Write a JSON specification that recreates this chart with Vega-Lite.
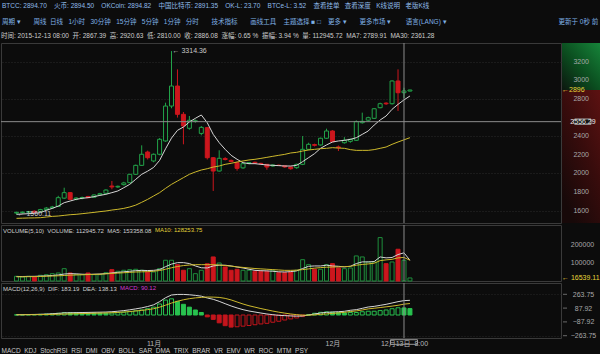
{
  "$schema": "https://vega.github.io/schema/vega-lite/v6.json",
  "background": "#0c0c0c",
  "padding": {"top": 2, "left": 0, "right": 0, "bottom": 0},
  "spacing": 0,
  "config": {
    "font": "Liberation Sans, Noto Sans CJK SC",
    "view": {"stroke": "#3a3a3a"},
    "concat": {"spacing": 0},
    "axis": {"labelFont": "Liberation Sans", "labelFontSize": 7, "labelColor": "#a0a0a0", "domain": false, "ticks": false, "grid": false, "title": null, "labelOverlap": false},
    "text": {"font": "Liberation Sans", "fontSize": 7}
  },
  "title": {
    "text": "BTCC: 2894.70\u00a0\u00a0\u00a0\u00a0火币: 2894.50\u00a0\u00a0\u00a0\u00a0OKCoin: 2894.82\u00a0\u00a0\u00a0\u00a0中国比特币: 2891.35\u00a0\u00a0\u00a0\u00a0OK-L: 23.70\u00a0\u00a0\u00a0\u00a0BTCe-L: 3.52\u00a0\u00a0\u00a0\u00a0查看挂单\u00a0\u00a0\u00a0查看深度\u00a0\u00a0\u00a0K线说明\u00a0\u00a0\u00a0老版K线",
    "subtitle": "\u00a0周期 ▾\u00a0\u00a0\u00a0\u00a0\u00a0\u00a0\u00a0周线\u00a0\u00a0日线\u00a0\u00a0\u00a01小时\u00a0\u00a0\u00a030分钟\u00a0\u00a0\u00a015分钟\u00a0\u00a0\u00a05分钟\u00a0\u00a0\u00a01分钟\u00a0\u00a0\u00a0分时\u00a0\u00a0\u00a0\u00a0\u00a0\u00a0\u00a0技术指标\u00a0\u00a0\u00a0\u00a0\u00a0\u00a0\u00a0画线工具\u00a0\u00a0\u00a0\u00a0主题选择 ■ □\u00a0\u00a0\u00a0\u00a0更多 ▾\u00a0\u00a0\u00a0\u00a0\u00a0\u00a0\u00a0更多市场 ▾\u00a0\u00a0\u00a0\u00a0\u00a0\u00a0\u00a0\u00a0语言(LANG) ▾\u00a0\u00a0\u00a0\u00a0\u00a0\u00a0\u00a0\u00a0\u00a0\u00a0\u00a0\u00a0\u00a0\u00a0\u00a0\u00a0\u00a0\u00a0\u00a0\u00a0\u00a0\u00a0\u00a0\u00a0\u00a0\u00a0\u00a0\u00a0\u00a0\u00a0\u00a0\u00a0\u00a0\u00a0\u00a0\u00a0\u00a0\u00a0\u00a0\u00a0\u00a0\u00a0\u00a0\u00a0\u00a0\u00a0\u00a0\u00a0\u00a0\u00a0\u00a0\u00a0\u00a0\u00a0\u00a0\u00a0\u00a0\u00a0\u00a0\u00a0\u00a0\u00a0更新于 0秒 前",
    "anchor": "start",
    "frame": "bounds",
    "font": "Liberation Sans, Noto Sans CJK SC",
    "fontSize": 6.5,
    "fontWeight": "normal",
    "color": "#8fbbe8",
    "subtitleFont": "Liberation Sans, Noto Sans CJK SC",
    "subtitleFontSize": 6.5,
    "subtitleColor": "#7fb0e4",
    "subtitlePadding": 10,
    "offset": 7,
    "dx": 2
  },
  "resolve": {"scale": {"x": "independent", "y": "independent"}},
  "datasets": {
    "k": [
      {"d":"2015-10-09","o":1575,"h":1590,"l":1560.11,"c":1582,"ma7":1561,"ma30":1518,"v":25700,"v5":24000,"v10":23000,"dif":4,"dea":3,"macd":2},
      {"d":"2015-10-10","o":1580,"h":1592,"l":1568,"c":1585,"ma7":1565,"ma30":1520,"v":21800,"v5":24500,"v10":23000,"dif":4.5,"dea":3,"macd":3},
      {"d":"2015-10-11","o":1585,"h":1598,"l":1572,"c":1590,"ma7":1568,"ma30":1522,"v":25700,"v5":25000,"v10":23500,"dif":6,"dea":4,"macd":4},
      {"d":"2015-10-12","o":1595,"h":1602,"l":1575,"c":1580,"ma7":1572,"ma30":1523,"v":21800,"v5":25500,"v10":24000,"dif":7,"dea":4,"macd":6},
      {"d":"2015-10-13","o":1590,"h":1620,"l":1585,"c":1612,"ma7":1579,"ma30":1525,"v":31000,"v5":26500,"v10":24500,"dif":9,"dea":5,"macd":8},
      {"d":"2015-10-14","o":1612,"h":1640,"l":1605,"c":1628,"ma7":1604,"ma30":1532,"v":34400,"v5":28000,"v10":26000,"dif":12,"dea":6,"macd":12},
      {"d":"2015-10-15","o":1630,"h":1652,"l":1620,"c":1640,"ma7":1625,"ma30":1539,"v":39900,"v5":30000,"v10":27000,"dif":16,"dea":8,"macd":16},
      {"d":"2015-10-16","o":1645,"h":1760,"l":1640,"c":1740,"ma7":1650,"ma30":1543,"v":43700,"v5":33000,"v10":28500,"dif":21,"dea":10,"macd":22},
      {"d":"2015-10-17","o":1735,"h":1847,"l":1725,"c":1794,"ma7":1686,"ma30":1550,"v":67200,"v5":38000,"v10":30000,"dif":27,"dea":12,"macd":30},
      {"d":"2015-10-18","o":1794,"h":1800,"l":1715,"c":1722,"ma7":1704,"ma30":1557,"v":43700,"v5":40000,"v10":31500,"dif":28.5,"dea":14,"macd":29},
      {"d":"2015-10-19","o":1725,"h":1745,"l":1712,"c":1736,"ma7":1722,"ma30":1561,"v":34400,"v5":39000,"v10":33000,"dif":30,"dea":16,"macd":28},
      {"d":"2015-10-20","o":1736,"h":1752,"l":1722,"c":1742,"ma7":1733,"ma30":1568,"v":34400,"v5":37000,"v10":34000,"dif":31.5,"dea":18,"macd":27},
      {"d":"2015-10-21","o":1752,"h":1760,"l":1735,"c":1740,"ma7":1740,"ma30":1575,"v":43700,"v5":36000,"v10":35000,"dif":33,"dea":20,"macd":26},
      {"d":"2015-10-22","o":1745,"h":1775,"l":1738,"c":1769,"ma7":1751,"ma30":1582,"v":34400,"v5":37000,"v10":36000,"dif":34.5,"dea":22,"macd":25},
      {"d":"2015-10-23","o":1770,"h":1792,"l":1762,"c":1783,"ma7":1765,"ma30":1590,"v":34400,"v5":38000,"v10":37000,"dif":36,"dea":24,"macd":24},
      {"d":"2015-10-24","o":1787,"h":1830,"l":1780,"c":1822,"ma7":1776,"ma30":1597,"v":45300,"v5":40000,"v10":39000,"dif":37.5,"dea":26,"macd":23},
      {"d":"2015-10-25","o":1865,"h":1919,"l":1830,"c":1855,"ma7":1794,"ma30":1607,"v":61700,"v5":44000,"v10":41000,"dif":42,"dea":29,"macd":26},
      {"d":"2015-10-26","o":1855,"h":1870,"l":1845,"c":1862,"ma7":1812,"ma30":1615,"v":53000,"v5":47000,"v10":43000,"dif":48,"dea":33,"macd":30},
      {"d":"2015-10-27","o":1880,"h":1910,"l":1870,"c":1898,"ma7":1847,"ma30":1625,"v":58400,"v5":50000,"v10":45000,"dif":56,"dea":38,"macd":36},
      {"d":"2015-10-28","o":1901,"h":1995,"l":1895,"c":1991,"ma7":1883,"ma30":1640,"v":61700,"v5":53000,"v10":47000,"dif":66,"dea":44,"macd":44},
      {"d":"2015-10-29","o":1991,"h":2095,"l":1985,"c":2087,"ma7":1937,"ma30":1660,"v":63900,"v5":56000,"v10":49000,"dif":78,"dea":51,"macd":54},
      {"d":"2015-10-30","o":2087,"h":2302,"l":2080,"c":2206,"ma7":1991,"ma30":1690,"v":58400,"v5":58000,"v10":50000,"dif":91,"dea":59,"macd":64},
      {"d":"2015-10-31","o":2230,"h":2245,"l":2150,"c":2169,"ma7":2025,"ma30":1722,"v":49100,"v5":57000,"v10":51000,"dif":108,"dea":68,"macd":80},
      {"d":"2015-11-01","o":2134,"h":2215,"l":2120,"c":2206,"ma7":2065,"ma30":1758,"v":49100,"v5":58000,"v10":53000,"dif":130,"dea":80,"macd":100},
      {"d":"2015-11-02","o":2206,"h":2380,"l":2195,"c":2367,"ma7":2140,"ma30":1794,"v":67200,"v5":62000,"v10":57000,"dif":170,"dea":100,"macd":140},
      {"d":"2015-11-03","o":2349,"h":2760,"l":2340,"c":2724,"ma7":2265,"ma30":1840,"v":113000,"v5":78000,"v10":64000,"dif":220,"dea":125,"macd":190},
      {"d":"2015-11-04","o":2724,"h":3314.36,"l":2700,"c":2939,"ma7":2380,"ma30":1883,"v":113000,"v5":92000,"v10":72000,"dif":255,"dea":152,"macd":206},
      {"d":"2015-11-05","o":2939,"h":3118,"l":2600,"c":2635,"ma7":2463,"ma30":1919,"v":89000,"v5":100000,"v10":79000,"dif":262,"dea":175,"macd":174},
      {"d":"2015-11-06","o":2635,"h":2660,"l":2313,"c":2510,"ma7":2499,"ma30":1955,"v":58400,"v5":100000,"v10":84000,"dif":262,"dea":194,"macd":136},
      {"d":"2015-11-07","o":2485,"h":2617,"l":2470,"c":2571,"ma7":2553,"ma30":1991,"v":67200,"v5":95000,"v10":87000,"dif":258,"dea":208,"macd":100},
      {"d":"2015-11-08","o":2560,"h":2580,"l":2545,"c":2566,"ma7":2592,"ma30":2016,"v":39900,"v5":82000,"v10":89000,"dif":250,"dea":218,"macd":64},
      {"d":"2015-11-09","o":2430,"h":2510,"l":2410,"c":2495,"ma7":2628,"ma30":2037,"v":58400,"v5":72000,"v10":89000,"dif":240,"dea":224,"macd":32},
      {"d":"2015-11-10","o":2492,"h":2500,"l":2150,"c":2169,"ma7":2545,"ma30":2051,"v":94000,"v5":71000,"v10":89000,"dif":217,"dea":229,"macd":-24},
      {"d":"2015-11-11","o":2169,"h":2175,"l":1812,"c":2026,"ma7":2420,"ma30":2069,"v":131000,"v5":82000,"v10":89000,"dif":200,"dea":228,"macd":-56},
      {"d":"2015-11-12","o":2026,"h":2249,"l":2020,"c":2163,"ma7":2331,"ma30":2080,"v":98000,"v5":86000,"v10":87000,"dif":174,"dea":224,"macd":-100},
      {"d":"2015-11-13","o":2160,"h":2175,"l":2140,"c":2150,"ma7":2259,"ma30":2098,"v":76400,"v5":86000,"v10":84000,"dif":144,"dea":212,"macd":-136},
      {"d":"2015-11-14","o":2140,"h":2150,"l":2120,"c":2128,"ma7":2195,"ma30":2109,"v":58400,"v5":82000,"v10":81000,"dif":115,"dea":192,"macd":-154},
      {"d":"2015-11-15","o":2116,"h":2125,"l":2030,"c":2055,"ma7":2152,"ma30":2123,"v":63900,"v5":76000,"v10":77000,"dif":90,"dea":166,"macd":-150},
      {"d":"2015-11-16","o":2060,"h":2115,"l":2050,"c":2105,"ma7":2116,"ma30":2134,"v":58400,"v5":71000,"v10":74000,"dif":68,"dea":140,"macd":-142},
      {"d":"2015-11-17","o":2110,"h":2122,"l":2100,"c":2116,"ma7":2105,"ma30":2145,"v":58400,"v5":64000,"v10":71000,"dif":51,"dea":118,"macd":-134},
      {"d":"2015-11-18","o":2120,"h":2128,"l":2105,"c":2112,"ma7":2105,"ma30":2152,"v":53000,"v5":58000,"v10":68000,"dif":38,"dea":100,"macd":-124},
      {"d":"2015-11-19","o":2108,"h":2115,"l":2095,"c":2104,"ma7":2098,"ma30":2162,"v":53000,"v5":56000,"v10":66000,"dif":25,"dea":82,"macd":-114},
      {"d":"2015-11-20","o":2098,"h":2102,"l":2040,"c":2069,"ma7":2091,"ma30":2173,"v":53000,"v5":55000,"v10":64000,"dif":13,"dea":66,"macd":-106},
      {"d":"2015-11-21","o":2080,"h":2098,"l":2072,"c":2091,"ma7":2087,"ma30":2184,"v":58400,"v5":53000,"v10":62000,"dif":4,"dea":50,"macd":-92},
      {"d":"2015-11-22","o":2088,"h":2096,"l":2080,"c":2086,"ma7":2084,"ma30":2195,"v":45300,"v5":50000,"v10":60000,"dif":-4,"dea":36,"macd":-80},
      {"d":"2015-11-23","o":2082,"h":2090,"l":2060,"c":2070,"ma7":2080,"ma30":2205,"v":45300,"v5":49000,"v10":58000,"dif":-8,"dea":24,"macd":-64},
      {"d":"2015-11-24","o":2069,"h":2075,"l":2040,"c":2051,"ma7":2080,"ma30":2220,"v":49100,"v5":51000,"v10":58000,"dif":-12,"dea":13,"macd":-50},
      {"d":"2015-11-25","o":2062,"h":2105,"l":2050,"c":2098,"ma7":2087,"ma30":2227,"v":58400,"v5":55000,"v10":59000,"dif":-15,"dea":4,"macd":-38},
      {"d":"2015-11-26","o":2098,"h":2402,"l":2090,"c":2259,"ma7":2127,"ma30":2241,"v":116000,"v5":68000,"v10":62000,"dif":-12,"dea":-2,"macd":-20},
      {"d":"2015-11-27","o":2259,"h":2330,"l":2250,"c":2313,"ma7":2170,"ma30":2252,"v":89000,"v5":80000,"v10":66000,"dif":0,"dea":-2,"macd":4},
      {"d":"2015-11-28","o":2310,"h":2320,"l":2290,"c":2302,"ma7":2213,"ma30":2259,"v":63900,"v5":82000,"v10":70000,"dif":13,"dea":2,"macd":22},
      {"d":"2015-11-29","o":2306,"h":2385,"l":2300,"c":2378,"ma7":2270,"ma30":2266,"v":63900,"v5":82000,"v10":73000,"dif":25,"dea":8,"macd":34},
      {"d":"2015-11-30","o":2378,"h":2481,"l":2370,"c":2456,"ma7":2306,"ma30":2270,"v":89000,"v5":86000,"v10":75000,"dif":34,"dea":14,"macd":40},
      {"d":"2015-12-01","o":2456,"h":2465,"l":2335,"c":2341,"ma7":2338,"ma30":2277,"v":94500,"v5":82000,"v10":76000,"dif":38,"dea":20,"macd":36},
      {"d":"2015-12-02","o":2285,"h":2300,"l":2241,"c":2277,"ma7":2349,"ma30":2273,"v":71000,"v5":80000,"v10":77000,"dif":42,"dea":26,"macd":32},
      {"d":"2015-12-03","o":2330,"h":2390,"l":2320,"c":2356,"ma7":2356,"ma30":2270,"v":67200,"v5":77000,"v10":78000,"dif":47,"dea":34,"macd":26},
      {"d":"2015-12-04","o":2345,"h":2375,"l":2330,"c":2367,"ma7":2366,"ma30":2256,"v":71000,"v5":80000,"v10":80000,"dif":60,"dea":44,"macd":32},
      {"d":"2015-12-05","o":2356,"h":2570,"l":2350,"c":2556,"ma7":2384,"ma30":2248,"v":136500,"v5":95000,"v10":86000,"dif":68,"dea":52,"macd":32},
      {"d":"2015-12-06","o":2545,"h":2653,"l":2535,"c":2560,"ma7":2420,"ma30":2248,"v":131000,"v5":104000,"v10":90000,"dif":85,"dea":64,"macd":42},
      {"d":"2015-12-07","o":2572,"h":2610,"l":2560,"c":2599,"ma7":2456,"ma30":2248,"v":103700,"v5":104000,"v10":93000,"dif":102,"dea":78,"macd":48},
      {"d":"2015-12-08","o":2592,"h":2700,"l":2585,"c":2695,"ma7":2520,"ma30":2256,"v":103700,"v5":106000,"v10":97000,"dif":110,"dea":86,"macd":48},
      {"d":"2015-12-09","o":2706,"h":2760,"l":2700,"c":2749,"ma7":2574,"ma30":2270,"v":236400,"v5":131000,"v10":111000,"dif":123,"dea":95,"macd":56},
      {"d":"2015-12-10","o":2755,"h":2765,"l":2735,"c":2748,"ma7":2617,"ma30":2284,"v":94500,"v5":126000,"v10":115000,"dif":136,"dea":104,"macd":64},
      {"d":"2015-12-11","o":2749,"h":3000,"l":2740,"c":2993,"ma7":2689,"ma30":2313,"v":103700,"v5":128000,"v10":118000,"dif":153,"dea":113,"macd":80},
      {"d":"2015-12-12","o":2993,"h":3118,"l":2671,"c":2867,"ma7":2742,"ma30":2338,"v":173000,"v5":144000,"v10":126000,"dif":170,"dea":124,"macd":92},
      {"d":"2015-12-13","o":2867.39,"h":2920.63,"l":2810,"c":2886.08,"ma7":2789.91,"ma30":2361.28,"v":112945.72,"v5":153358.08,"v10":128253.75,"dif":183.19,"dea":138.13,"macd":90.12},
      {"d":"2015-12-14","o":2885,"h":2900,"l":2880,"c":2896,"ma7":2832,"ma30":2384,"v":16539.11,"v5":113000,"v10":113000,"dif":187,"dea":146,"macd":82}
    ],
    "cursor": [{"d": "2015-12-13", "p": 2556.29}],
    "notes": [
      {"d": "2015-11-04", "p": 3314.36, "label": "← 3314.36"},
      {"d": "2015-10-09", "p": 1560.11, "label": "← 1560.11"}
    ],
    "depth": [
      {"side": "ask", "lo": 2896, "hi": 3401},
      {"side": "bid", "lo": 1468, "hi": 2896}
    ],
    "pricelv": [{"lv": 1600}, {"lv": 1800}, {"lv": 2000}, {"lv": 2200}, {"lv": 2400}, {"lv": 2800}, {"lv": 3000}, {"lv": 3200}],
    "last": [{"p": 2896, "label": "←2896"}],
    "lastvol": [{"v": 16539.11, "label": "← 16539.11"}],
    "macdlv": [{"lv": 263.75}, {"lv": 87.92}, {"lv": -87.92}, {"lv": -263.75}]
  },
  "vconcat": [
    {
      "spacing": 0,
      "title": {"text": "时间: 2015-12-13 08:00\u00a0\u00a0开: 2867.39\u00a0\u00a0高: 2920.63\u00a0\u00a0低: 2810.00\u00a0\u00a0收: 2886.08\u00a0\u00a0涨幅: 0.65 %\u00a0\u00a0振幅: 3.94 %\u00a0\u00a0量: 112945.72\u00a0\u00a0MA7: 2789.91\u00a0\u00a0MA30: 2361.28", "anchor": "start", "frame": "bounds", "offset": 3, "dx": 1, "fontSize": 6.5, "fontWeight": "normal", "color": "#cdcdcd", "font": "Liberation Sans, Noto Sans CJK SC"},
      "hconcat": [
        {
          "width": 560,
          "height": 180,
          "data": {"name": "k"},
          "layer": [
            {
              "mark": {"type": "rule", "strokeWidth": 1},
              "encoding": {
                "x": {"field": "d", "type": "temporal", "scale": {"type": "utc", "domain": [{"year": 2015, "month": 10, "date": 7, "hours": 5, "minutes": 41, "utc": true}, {"year": 2016, "month": 1, "date": 7, "hours": 12, "utc": true}]}, "axis": null},
                "y": {"field": "l", "type": "quantitative", "scale": {"domain": [1468, 3401], "nice": false, "zero": false}, "axis": {"orient": "right", "labels": false, "grid": true, "gridColor": "#2a2a2a", "gridDash": [1, 2], "values": [1600, 1800, 2000, 2200, 2400, 2600, 2800, 3000, 3200]}},
                "y2": {"field": "h"},
                "color": {"condition": {"test": "datum.c >= datum.o", "value": "#22a349"}, "value": "#cc161d"}
              }
            },
            {
              "mark": {"type": "bar", "size": 4, "strokeWidth": 1},
              "encoding": {
                "x": {"field": "d", "type": "temporal"},
                "y": {"field": "o", "type": "quantitative"},
                "y2": {"field": "c"},
                "fill": {"condition": {"test": "datum.c >= datum.o", "value": "#0c0c0c"}, "value": "#cc161d"},
                "stroke": {"condition": {"test": "datum.c >= datum.o", "value": "#22a349"}, "value": "#cc161d"}
              }
            },
            {
              "mark": {"type": "line", "color": "#d6d6d6", "strokeWidth": 1},
              "encoding": {"x": {"field": "d", "type": "temporal"}, "y": {"field": "ma7", "type": "quantitative"}}
            },
            {
              "mark": {"type": "line", "color": "#cdb92c", "strokeWidth": 1},
              "encoding": {"x": {"field": "d", "type": "temporal"}, "y": {"field": "ma30", "type": "quantitative"}}
            },
            {
              "data": {"name": "cursor"},
              "mark": {"type": "rule", "color": "#8c8c8c", "strokeWidth": 1},
              "encoding": {"x": {"field": "d", "type": "temporal"}}
            },
            {
              "data": {"name": "cursor"},
              "mark": {"type": "rule", "color": "#8c8c8c", "strokeWidth": 1},
              "encoding": {"y": {"field": "p", "type": "quantitative"}}
            },
            {
              "data": {"name": "notes"},
              "mark": {"type": "text", "align": "left", "dx": 1, "color": "#c8c8c8", "fontSize": 7},
              "encoding": {"x": {"field": "d", "type": "temporal"}, "y": {"field": "p", "type": "quantitative"}, "text": {"field": "label"}}
            }
          ]
        },
        {
          "width": 40,
          "height": 180,
          "view": {"stroke": null},
          "layer": [
            {
              "data": {"name": "depth"},
              "transform": [{"filter": "datum.side == 'ask'"}],
              "mark": {"type": "rect", "fill": {"gradient": "linear", "x1": 1, "y1": 0, "x2": 0, "y2": 1, "stops": [{"offset": 0, "color": "#17873b"}, {"offset": 0.55, "color": "#0b4d1f"}, {"offset": 1, "color": "#0c160f"}]}},
              "encoding": {
                "x": {"datum": 0, "type": "quantitative", "scale": {"domain": [0, 1]}, "axis": null},
                "x2": {"datum": 1},
                "y": {"field": "lo", "type": "quantitative", "scale": {"domain": [1468, 3401], "nice": false, "zero": false}, "axis": null},
                "y2": {"field": "hi"}
              }
            },
            {
              "data": {"name": "depth"},
              "transform": [{"filter": "datum.side == 'bid'"}],
              "mark": {"type": "rect", "fill": {"gradient": "linear", "x1": 1, "y1": 0, "x2": 0.3, "y2": 1, "stops": [{"offset": 0, "color": "#5e1212"}, {"offset": 0.5, "color": "#380c0c"}, {"offset": 1, "color": "#170909"}]}},
              "encoding": {
                "x": {"datum": 0, "type": "quantitative"},
                "x2": {"datum": 1},
                "y": {"field": "lo", "type": "quantitative"},
                "y2": {"field": "hi"}
              }
            },
            {
              "data": {"name": "pricelv"},
              "mark": {"type": "text", "color": "#a8a8a8", "fontSize": 7},
              "encoding": {"x": {"datum": 0.48, "type": "quantitative"}, "y": {"field": "lv", "type": "quantitative"}, "text": {"field": "lv", "type": "quantitative", "format": "d"}}
            },
            {
              "data": {"name": "cursor"},
              "mark": {"type": "point", "shape": "M-1,0L-0.82,-0.3L1,-0.3L1,0.3L-0.82,0.3Z", "size": 324, "filled": true, "fill": "#141414", "stroke": "#a0a0a0", "strokeWidth": 1, "opacity": 1},
              "encoding": {"x": {"datum": 0.5, "type": "quantitative"}, "y": {"field": "p", "type": "quantitative"}}
            },
            {
              "data": {"name": "cursor"},
              "mark": {"type": "text", "color": "#e6e6e6", "fontSize": 7, "dx": 1},
              "encoding": {"x": {"datum": 0.5, "type": "quantitative"}, "y": {"field": "p", "type": "quantitative"}, "text": {"field": "p", "type": "quantitative", "format": ".2f"}}
            },
            {
              "data": {"name": "last"},
              "mark": {"type": "text", "align": "left", "color": "#e8d53a", "fontSize": 7},
              "encoding": {"x": {"datum": 0, "type": "quantitative"}, "y": {"field": "p", "type": "quantitative"}, "text": {"field": "label"}}
            }
          ]
        }
      ]
    },
    {
      "spacing": 0,
      "title": {"text": "MA10: 128253.75", "anchor": "start", "frame": "group", "offset": -9, "dx": 154, "fontSize": 6, "fontWeight": "normal", "color": "#e3d23a", "font": "Liberation Sans"},
      "hconcat": [
        {
          "width": 560,
          "height": 56,
          "title": {"text": "VOLUME(5,10)\u00a0\u00a0VOLUME: 112945.72\u00a0\u00a0MA5: 153358.08", "anchor": "start", "offset": -9, "dx": 2, "fontSize": 6, "fontWeight": "normal", "color": "#cfcfcf", "font": "Liberation Sans"},
          "data": {"name": "k"},
          "layer": [
            {
              "mark": {"type": "bar", "size": 4, "strokeWidth": 1},
              "encoding": {
                "x": {"field": "d", "type": "temporal", "scale": {"type": "utc", "domain": [{"year": 2015, "month": 10, "date": 7, "hours": 5, "minutes": 41, "utc": true}, {"year": 2016, "month": 1, "date": 7, "hours": 12, "utc": true}]}, "axis": null},
                "y": {"field": "v", "type": "quantitative", "scale": {"domain": [0, 305000], "nice": false}, "axis": null},
                "fill": {"condition": {"test": "datum.c >= datum.o", "value": "#0c0c0c"}, "value": "#cc161d"},
                "stroke": {"condition": {"test": "datum.c >= datum.o", "value": "#1f8f3d"}, "value": "#cc161d"}
              }
            },
            {
              "mark": {"type": "line", "color": "#d6d6d6", "strokeWidth": 1},
              "encoding": {"x": {"field": "d", "type": "temporal"}, "y": {"field": "v5", "type": "quantitative"}}
            },
            {
              "mark": {"type": "line", "color": "#cdb92c", "strokeWidth": 1},
              "encoding": {"x": {"field": "d", "type": "temporal"}, "y": {"field": "v10", "type": "quantitative"}}
            },
            {
              "data": {"name": "cursor"},
              "mark": {"type": "rule", "color": "#8c8c8c", "strokeWidth": 1},
              "encoding": {"x": {"field": "d", "type": "temporal"}}
            }
          ]
        },
        {
          "width": 40,
          "height": 56,
          "view": {"stroke": null},
          "data": {"name": "lastvol"},
          "mark": {"type": "text", "align": "left", "color": "#e8d53a", "fontSize": 7},
          "encoding": {
            "x": {"datum": 0, "type": "quantitative", "scale": {"domain": [0, 1]}, "axis": null},
            "y": {"field": "v", "type": "quantitative", "scale": {"domain": [0, 305000], "nice": false}, "axis": {"orient": "left", "values": [100000, 200000], "format": "d", "labelAlign": "center", "labelPadding": -20, "labelOverlap": false, "tickSize": 0, "zindex": 1, "labelColor": "#a8a8a8"}},
            "text": {"field": "label"}
          }
        }
      ]
    },
    {
      "spacing": 0,
      "title": {"text": "MACD: 90.12", "anchor": "start", "frame": "group", "offset": -9, "dx": 119, "fontSize": 6, "fontWeight": "normal", "color": "#d23ad2", "font": "Liberation Sans"},
      "hconcat": [
        {
          "width": 560,
          "height": 55,
          "title": {"text": "MACD(12,26,9)\u00a0\u00a0DIF: 183.19\u00a0\u00a0DEA: 138.13", "anchor": "start", "offset": -9, "dx": 2, "fontSize": 6, "fontWeight": "normal", "color": "#cfcfcf", "font": "Liberation Sans"},
          "data": {"name": "k"},
          "transform": [{"window": [{"op": "lag", "field": "macd", "as": "prev"}], "sort": [{"field": "d"}]}],
          "layer": [
            {
              "mark": {"type": "bar", "size": 4, "strokeWidth": 1},
              "encoding": {
                "x": {"field": "d", "type": "temporal", "scale": {"type": "utc", "domain": [{"year": 2015, "month": 10, "date": 7, "hours": 5, "minutes": 41, "utc": true}, {"year": 2016, "month": 1, "date": 7, "hours": 12, "utc": true}]}, "axis": {"orient": "bottom", "values": [{"year": 2015, "month": 11, "date": 1, "utc": true}, {"year": 2015, "month": 12, "date": 1, "utc": true}, {"year": 2015, "month": 12, "date": 13, "utc": true}], "labelExpr": "utcFormat(datum.value, '%d') == '13' ? '12月13日\u00a0\u00a08:00' : utcFormat(datum.value, '%-m') + '月'", "labelFont": "Liberation Sans, Noto Sans CJK SC", "labelColor": "#b8b8b8", "labelPadding": 1, "title": "MACD\u00a0\u00a0KDJ\u00a0\u00a0StochRSI\u00a0\u00a0RSI\u00a0\u00a0DMI\u00a0\u00a0OBV\u00a0\u00a0BOLL\u00a0\u00a0SAR\u00a0\u00a0DMA\u00a0\u00a0TRIX\u00a0\u00a0BRAR\u00a0\u00a0VR\u00a0\u00a0EMV\u00a0\u00a0WR\u00a0\u00a0ROC\u00a0\u00a0MTM\u00a0\u00a0PSY", "titleAnchor": "start", "titleAlign": "left", "titleFont": "Liberation Sans", "titleFontSize": 6.5, "titleFontWeight": "normal", "titleColor": "#c8c8c8", "titlePadding": 1}},
                "y": {"field": "macd", "type": "quantitative", "scale": {"domain": [-293, 407.7], "nice": false, "zero": false}, "axis": {"orient": "right", "labels": false, "grid": true, "gridColor": "#262626", "gridDash": [1, 2], "values": [263.75, 87.92, -87.92, -263.75]}},
                "fill": {"condition": [{"test": "datum.macd >= datum.prev", "value": "#0c0c0c"}, {"test": "datum.macd >= 0", "value": "#28c24f"}], "value": "#c4151c"},
                "stroke": {"condition": {"test": "datum.macd >= 0", "value": "#28c24f"}, "value": "#c4151c"}
              }
            },
            {
              "mark": {"type": "line", "color": "#d6d6d6", "strokeWidth": 1},
              "encoding": {"x": {"field": "d", "type": "temporal"}, "y": {"field": "dif", "type": "quantitative"}}
            },
            {
              "mark": {"type": "line", "color": "#cdb92c", "strokeWidth": 1},
              "encoding": {"x": {"field": "d", "type": "temporal"}, "y": {"field": "dea", "type": "quantitative"}}
            },
            {
              "data": {"name": "cursor"},
              "mark": {"type": "rule", "color": "#8c8c8c", "strokeWidth": 1},
              "encoding": {"x": {"field": "d", "type": "temporal"}}
            },
            {
              "data": {"name": "cursor"},
              "mark": {"type": "point", "shape": "M-1,-0.17L1,-0.17L1,0.17L-1,0.17Z", "size": 729, "filled": false, "stroke": "#9a9a9a", "strokeWidth": 1, "opacity": 1},
              "encoding": {"x": {"field": "d", "type": "temporal"}, "y": {"datum": -344, "type": "quantitative"}}
            }
          ]
        },
        {
          "width": 40,
          "height": 55,
          "view": {"stroke": null},
          "data": {"name": "macdlv"},
          "mark": {"type": "rule", "color": "#6a6a6a", "strokeWidth": 1},
          "encoding": {
            "x": {"datum": 0, "type": "quantitative", "scale": {"domain": [0, 1]}, "axis": null},
            "x2": {"datum": 0.1},
            "y": {"field": "lv", "type": "quantitative", "scale": {"domain": [-293, 407.7], "nice": false, "zero": false}, "axis": {"orient": "left", "values": [263.75, 87.92, -87.92, -263.75], "format": ".2f", "labelAlign": "center", "labelPadding": -20, "labelOverlap": false, "tickSize": 0, "zindex": 1, "labelColor": "#a8a8a8"}}
          }
        }
      ]
    }
  ]
}
